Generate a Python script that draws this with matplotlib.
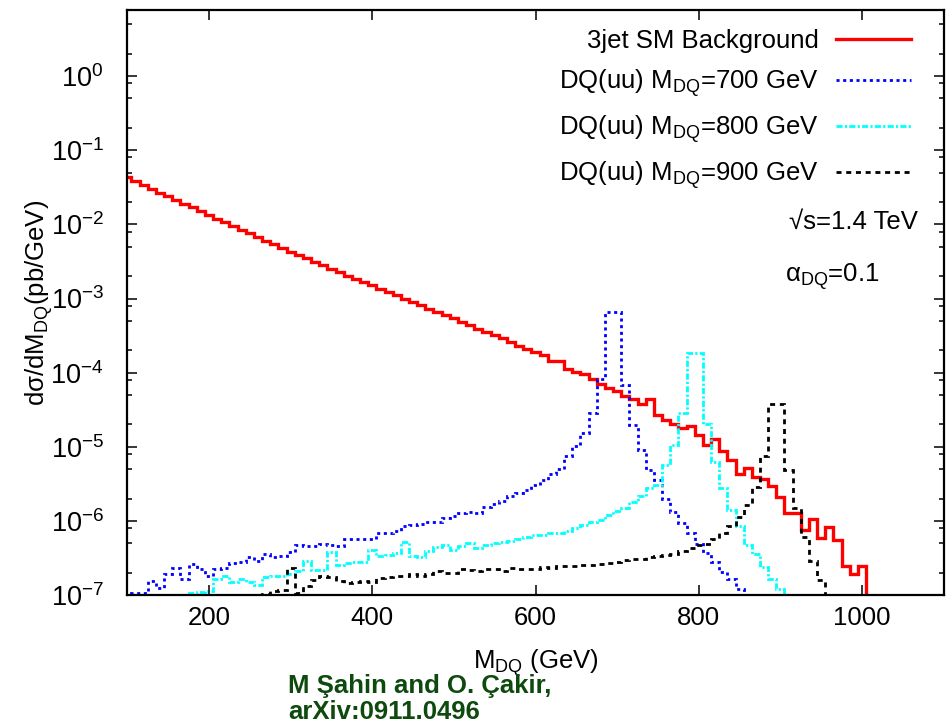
import numpy as np
import matplotlib
matplotlib.use('Agg')
import matplotlib.pyplot as plt
from matplotlib.ticker import LogLocator, FuncFormatter, MultipleLocator, NullLocator

plt.rcParams['font.family'] = ['Liberation Sans', 'DejaVu Sans']
plt.rcParams['mathtext.fontset'] = 'custom'
plt.rcParams['mathtext.rm'] = 'Liberation Sans'
plt.rcParams['mathtext.it'] = 'Liberation Sans:italic'
plt.rcParams['mathtext.bf'] = 'Liberation Sans:bold'

FS = 18.5

# ── data: dsigma/dM (pb/GeV) per 10 GeV bin ──────────────────────────────
m_bkg = np.arange(100, 1001, 10)
bkg = [4.37e-2, 3.80e-2, 3.39e-2, 3.02e-2, 2.69e-2, 2.40e-2, 2.14e-2, 1.91e-2, 1.70e-2, 1.51e-2,
       1.35e-2, 1.20e-2, 1.07e-2, 9.55e-3, 8.51e-3, 7.59e-3, 6.76e-3, 6.03e-3, 5.37e-3, 4.79e-3,
       4.27e-3, 3.89e-3, 3.47e-3, 3.09e-3, 2.82e-3, 2.51e-3, 2.29e-3, 2.04e-3, 1.86e-3, 1.66e-3,
       1.51e-3, 1.35e-3, 1.23e-3, 1.10e-3, 1.00e-3, 8.9e-4, 8.1e-4, 7.2e-4, 6.6e-4, 5.9e-4,
       5.4e-4, 4.8e-4, 4.4e-4, 3.9e-4, 3.5e-4, 3.2e-4, 2.9e-4, 2.6e-4, 2.3e-4, 2.1e-4,
       1.9e-4, 1.72e-4, 1.45e-4, 1.45e-4, 1.11e-4, 1.02e-4, 9.5e-5, 8.3e-5, 7.1e-5, 6.3e-5,
       5.6e-5, 4.9e-5, 4.4e-5, 3.8e-5, 4.4e-5, 2.66e-5, 2.3e-5, 2.04e-5, 1.78e-5, 1.9e-5,
       1.43e-5, 1.05e-5, 1.29e-5, 8.9e-6, 6.6e-6, 4.3e-6, 5.2e-6, 3.9e-6, 3.7e-6, 3.0e-6,
       2.1e-6, 1.29e-6, 1.29e-6, 7.6e-7, 1.07e-6, 5.8e-7, 8.3e-7, 5.5e-7, 2.45e-7, 1.9e-7,
       2.45e-7]

m_700 = np.arange(100, 851, 10)
dq700 = [5e-8, 1.05e-7, 1.05e-7, 1.55e-7, 1.26e-7, 1.95e-7, 2.34e-7, 1.62e-7, 2.63e-7, 2.24e-7,
         1.78e-7, 2.24e-7, 2.29e-7, 2.69e-7, 2.82e-7, 3.24e-7, 2.88e-7, 3.55e-7, 3.24e-7, 3.31e-7,
         3.80e-7, 4.79e-7, 4.57e-7, 4.57e-7, 4.90e-7, 4.79e-7, 4.57e-7, 5.62e-7, 5.62e-7, 5.75e-7,
         5.75e-7, 6.92e-7, 6.76e-7, 7.24e-7, 8.51e-7, 8.71e-7, 9.12e-7, 9.55e-7, 9.77e-7, 1.10e-6,
         1.15e-6, 1.29e-6, 1.32e-6, 1.29e-6, 1.55e-6, 1.70e-6, 1.86e-6, 2.19e-6, 2.40e-6, 2.63e-6,
         3.02e-6, 3.55e-6, 4.27e-6, 5.01e-6, 7.41e-6, 1.02e-5, 1.55e-5, 2.82e-5, 8.13e-5, 6.6e-4,
         6.6e-4, 6.76e-5, 1.95e-5, 8.91e-6, 4.90e-6, 3.55e-6, 1.95e-6, 1.32e-6, 9.33e-7, 6.76e-7,
         4.90e-7, 3.72e-7, 2.82e-7, 2.04e-7, 1.62e-7, 1.20e-7]

m_800 = np.arange(170, 911, 10)
dq800 = [5e-8, 1.05e-7, 1.10e-7, 1.15e-7, 1.66e-7, 1.82e-7, 1.51e-7, 1.66e-7, 1.51e-7, 1.38e-7,
         1.74e-7, 1.78e-7, 1.82e-7, 1.95e-7, 2.09e-7, 2.88e-7, 2.19e-7, 2.19e-7, 3.80e-7, 2.51e-7,
         2.69e-7, 2.75e-7, 2.82e-7, 4.07e-7, 3.31e-7, 3.47e-7, 3.72e-7, 5.25e-7, 3.31e-7, 3.24e-7,
         3.98e-7, 4.47e-7, 4.79e-7, 4.07e-7, 4.57e-7, 5.01e-7, 4.27e-7, 4.68e-7, 5.01e-7, 5.25e-7,
         5.37e-7, 5.75e-7, 6.03e-7, 6.46e-7, 6.46e-7, 6.76e-7, 6.76e-7, 7.24e-7, 7.94e-7, 8.91e-7,
         9.55e-7, 1.02e-6, 1.20e-6, 1.35e-6, 1.51e-6, 1.78e-6, 2.14e-6, 2.75e-6, 3.02e-6, 5.75e-6,
         1.05e-5, 2.82e-5, 1.86e-4, 1.86e-4, 2.04e-5, 6.31e-6, 2.79e-6, 1.40e-6, 8.51e-7, 4.68e-7,
         3.55e-7, 2.40e-7, 1.64e-7, 1.20e-7, 5e-8]

m_900 = np.arange(260, 961, 10)
dq900 = [5e-8, 1.02e-7, 1.15e-7, 1.17e-7, 2.29e-7, 1.05e-7, 1.32e-7, 1.58e-7, 1.78e-7, 1.74e-7,
         1.55e-7, 1.45e-7, 1.48e-7, 1.55e-7, 1.48e-7, 1.70e-7, 1.74e-7, 1.82e-7, 1.82e-7, 1.95e-7,
         1.82e-7, 1.91e-7, 2.09e-7, 2.00e-7, 2.00e-7, 2.24e-7, 2.19e-7, 2.14e-7, 2.24e-7, 2.24e-7,
         2.14e-7, 2.34e-7, 2.24e-7, 2.24e-7, 2.24e-7, 2.40e-7, 2.34e-7, 2.45e-7, 2.45e-7, 2.45e-7,
         2.51e-7, 2.57e-7, 2.63e-7, 2.69e-7, 2.75e-7, 2.95e-7, 3.02e-7, 3.09e-7, 3.24e-7, 3.39e-7,
         3.47e-7, 3.63e-7, 3.98e-7, 4.37e-7, 4.68e-7, 4.90e-7, 5.75e-7, 6.92e-7, 8.51e-7, 1.12e-6,
         1.66e-6, 2.88e-6, 7.41e-6, 3.80e-5, 3.80e-5, 4.79e-6, 1.51e-6, 6.03e-7, 2.88e-7, 1.58e-7,
         5e-8]

labels = ['3jet SM Background',
          r'DQ(uu) M$_\mathregular{DQ}$=700 GeV',
          r'DQ(uu) M$_\mathregular{DQ}$=800 GeV',
          r'DQ(uu) M$_\mathregular{DQ}$=900 GeV']


def edges(m, width=10):
    # gnuplot histeps: steps half-way between points
    return np.append(np.asarray(m) - width / 2, m[-1] + width / 2)


# ── figure ──────────────────────────────────────────────────────────────
fig = plt.figure(figsize=(9.48, 7.25), dpi=100)
ax = fig.add_axes([0.1344, 0.1793, 0.861, 0.8069])

ax.stairs(bkg, edges(m_bkg), baseline=1e-9, color='#FF0000', lw=2.4, label=labels[0])
ax.stairs(dq700, edges(m_700), baseline=1e-9, color='#0000FF', lw=2.0,
          linestyle=(0, (1.1, 1.3)), label=labels[1])
ax.stairs(dq800, edges(m_800), baseline=1e-9, color='#00FFFF', lw=2.0,
          linestyle=(0, (2.2, 0.8, 0.8, 0.8)), label=labels[2])
ax.stairs(dq900, edges(m_900), baseline=1e-9, color='black', lw=2.0,
          linestyle=(0, (1.8, 1.7)), label=labels[3])

ax.set_yscale('log')
ax.set_xlim(100, 1100)
ax.set_ylim(1e-7, 7.8)

ax.xaxis.set_major_locator(MultipleLocator(200))
ax.xaxis.set_minor_locator(NullLocator())
ax.yaxis.set_major_locator(LogLocator(base=10, numticks=20))
ax.yaxis.set_minor_locator(LogLocator(base=10, subs=[2, 5, 8], numticks=20))
ax.yaxis.set_major_formatter(FuncFormatter(lambda v, p: r'$\mathregular{10^{%d}}$' % round(np.log10(v))))
ax.yaxis.set_minor_formatter(FuncFormatter(lambda v, p: ''))

ax.tick_params(which='both', direction='in', top=True, right=True, width=1.1, labelsize=FS)
ax.tick_params(axis='y', labelsize=19.5)
ax.tick_params(which='major', length=7.2)
ax.tick_params(which='minor', length=3.6)
ax.tick_params(axis='x', pad=8)
ax.tick_params(axis='y', pad=17)
for s in ax.spines.values():
    s.set_linewidth(1.6)

ax.set_ylabel('dσ/dM$_\\mathregular{DQ}$(pb/GeV)', fontsize=FS)
ax.yaxis.set_label_coords(-0.089, 0.5)
ax.set_xlabel(r'M$_\mathregular{DQ}$ (GeV)', fontsize=FS)
ax.xaxis.set_label_coords(0.5, -0.09)

leg = ax.legend(loc='upper right', bbox_to_anchor=(0.960, 0.967), markerfirst=False,
                frameon=False, fontsize=FS, handlelength=2.9, handletextpad=0.7,
                labelspacing=0.55, borderpad=0, borderaxespad=0)

ax.text(0.969, 0.638, '\u221as=1.4 TeV', transform=ax.transAxes, ha='right', va='center', fontsize=FS)
ax.text(0.922, 0.545, 'α$_\\mathregular{DQ}$=0.1', transform=ax.transAxes,
        ha='right', va='center', fontsize=FS)

# citation, drawn over the bottom of the x label as in the original slide
fig.text(288 / 948, 1 / 725, 'M Şahin and O. Çakir,\narXiv:0911.0496', color='#0E4A0E',
         fontsize=18.5, fontweight='bold', linespacing=1.08,
         family=['Liberation Sans Narrow', 'Liberation Sans'], va='bottom', ha='left')

fig.savefig('out.png', dpi=100)
